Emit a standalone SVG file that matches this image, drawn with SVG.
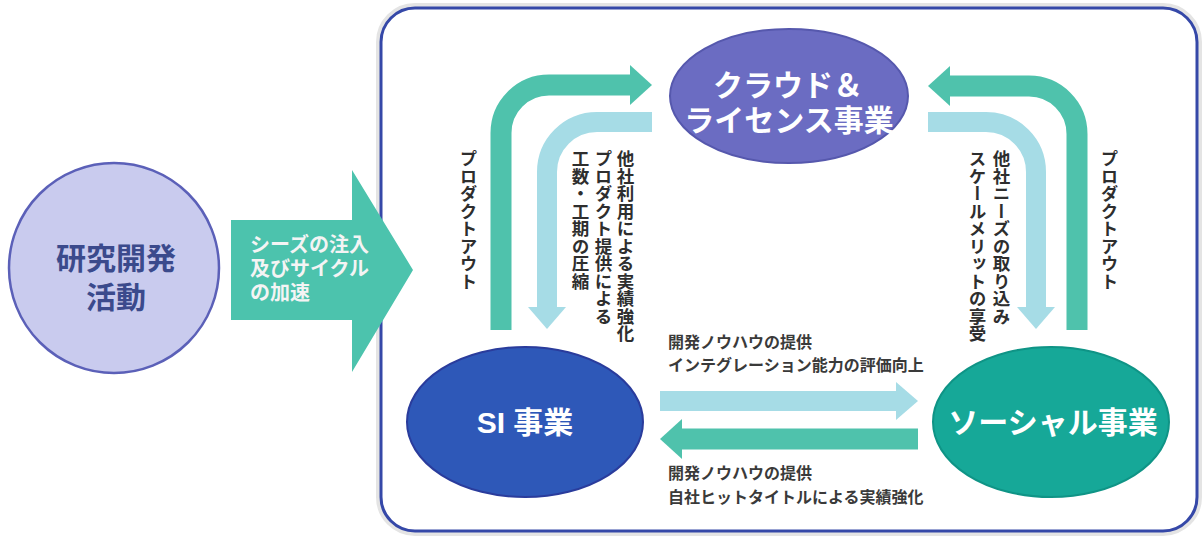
<svg xmlns="http://www.w3.org/2000/svg" width="1204" height="536" viewBox="0 0 1204 536">
  <style>
    .jp { font-family: "Liberation Sans", "Noto Sans CJK JP", sans-serif; }
    .big { font-size: 30px; font-weight: 700; fill: #ffffff; text-anchor: middle; dominant-baseline: central; }
    .small { font-size: 16px; font-weight: 700; fill: #3a3a3a; dominant-baseline: central; }
    .vert { font-size: 17.5px; font-weight: 700; fill: #2e2e2e; writing-mode: vertical-rl; }
    .dark { fill: none; stroke: #4fc2ac; stroke-width: 21; }
    .light { fill: none; stroke: #a6dce6; stroke-width: 20; }
  </style>
  <defs>
    <marker id="headDark" markerUnits="userSpaceOnUse" viewBox="0 0 22 40" markerWidth="22" markerHeight="40" refX="0" refY="20" orient="auto">
      <path d="M0,0 L22,20 L0,40 z" fill="#4fc2ac"/>
    </marker>
    <marker id="headLight" markerUnits="userSpaceOnUse" viewBox="0 0 22 38" markerWidth="22" markerHeight="38" refX="0" refY="19" orient="auto">
      <path d="M0,0 L22,19 L0,38 z" fill="#a6dce6"/>
    </marker>
  </defs>

  <rect width="1204" height="536" fill="#ffffff"/>

  <!-- frame -->
  <g id="frame">
    <rect x="381" y="8" width="816" height="523" rx="34" ry="34" fill="none" stroke="#e4e4e4" stroke-width="10"/>
    <rect x="381" y="8" width="816" height="523" rx="34" ry="34" fill="#ffffff" stroke="#3548a8" stroke-width="3"/>
  </g>

  <!-- research node -->
  <g id="research">
    <circle cx="114" cy="268" r="105" fill="#c9cbee" stroke="#5b60b8" stroke-width="2.5"/>
    <text class="jp" font-size="30" font-weight="700" fill="#3b4a8c" text-anchor="middle" dominant-baseline="central"><tspan x="116" y="258">研究開発</tspan><tspan x="116" y="297">活動</tspan></text>
  </g>

  <!-- big arrow -->
  <g id="seed-arrow">
    <path d="M231,220 H352 V170 L413,270 L352,372 V320 H231 Z" fill="#4cc3ad"/>
    <text class="jp" font-size="20" font-weight="700" fill="#f4f4f4" dominant-baseline="central"><tspan x="250" y="245">シーズの注入</tspan><tspan x="250" y="269">及びサイクル</tspan><tspan x="250" y="293">の加速</tspan></text>
  </g>

  <!-- connectors -->
  <g id="connectors">
    <path class="dark" d="M501,330 V133 A48,48 0 0 1 549,85 H630" marker-end="url(#headDark)"/>
    <path class="light" d="M652,122 H597 A50,50 0 0 0 547,172 V307" marker-end="url(#headLight)"/>
    <path class="dark" d="M1077,330 V134 A48,48 0 0 0 1029,86 H950" marker-end="url(#headDark)"/>
    <path class="light" d="M928,122 H986 A50,50 0 0 1 1036,172 V307" marker-end="url(#headLight)"/>
    <path class="light" d="M660,401 H896" marker-end="url(#headLight)"/>
    <path class="dark" d="M918,439 H682" marker-end="url(#headDark)"/>
  </g>

  <!-- connector labels -->
  <g id="labels">
    <text class="jp vert" x="467" y="150">プロダクトアウト</text>
    <text class="jp vert" x="624" y="150">他社利用による実績強化</text>
    <text class="jp vert" x="602" y="150">プロダクト提供による</text>
    <text class="jp vert" x="579" y="150">工数・工期の圧縮</text>
    <text class="jp vert" x="1108" y="150">プロダクトアウト</text>
    <text class="jp vert" x="1000" y="150">他社ニーズの取り込み</text>
    <text class="jp vert" x="976" y="150">スケールメリットの享受</text>
    <text class="jp small"><tspan x="668" y="342">開発ノウハウの提供</tspan><tspan x="668" y="365">インテグレーション能力の評価向上</tspan></text>
    <text class="jp small"><tspan x="668" y="473">開発ノウハウの提供</tspan><tspan x="668" y="497">自社ヒットタイトルによる実績強化</tspan></text>
  </g>

  <!-- cloud node -->
  <g id="cloud">
    <ellipse cx="789" cy="96" rx="119" ry="67" fill="#6b6cc2" stroke="#5658ad" stroke-width="2"/>
    <text class="jp big"><tspan x="788" y="85">クラウド＆</tspan><tspan x="789" y="120">ライセンス事業</tspan></text>
  </g>

  <!-- SI node -->
  <g id="si">
    <ellipse cx="525" cy="422" rx="118" ry="75" fill="#2e58b8" stroke="#2a3c9c" stroke-width="2"/>
    <text class="jp big" x="525" y="422">SI 事業</text>
  </g>

  <!-- social node -->
  <g id="social">
    <ellipse cx="1051" cy="422" rx="118" ry="75" fill="#16a898" stroke="#0f9486" stroke-width="2"/>
    <text class="jp big" x="1053" y="422">ソーシャル事業</text>
  </g>
</svg>
